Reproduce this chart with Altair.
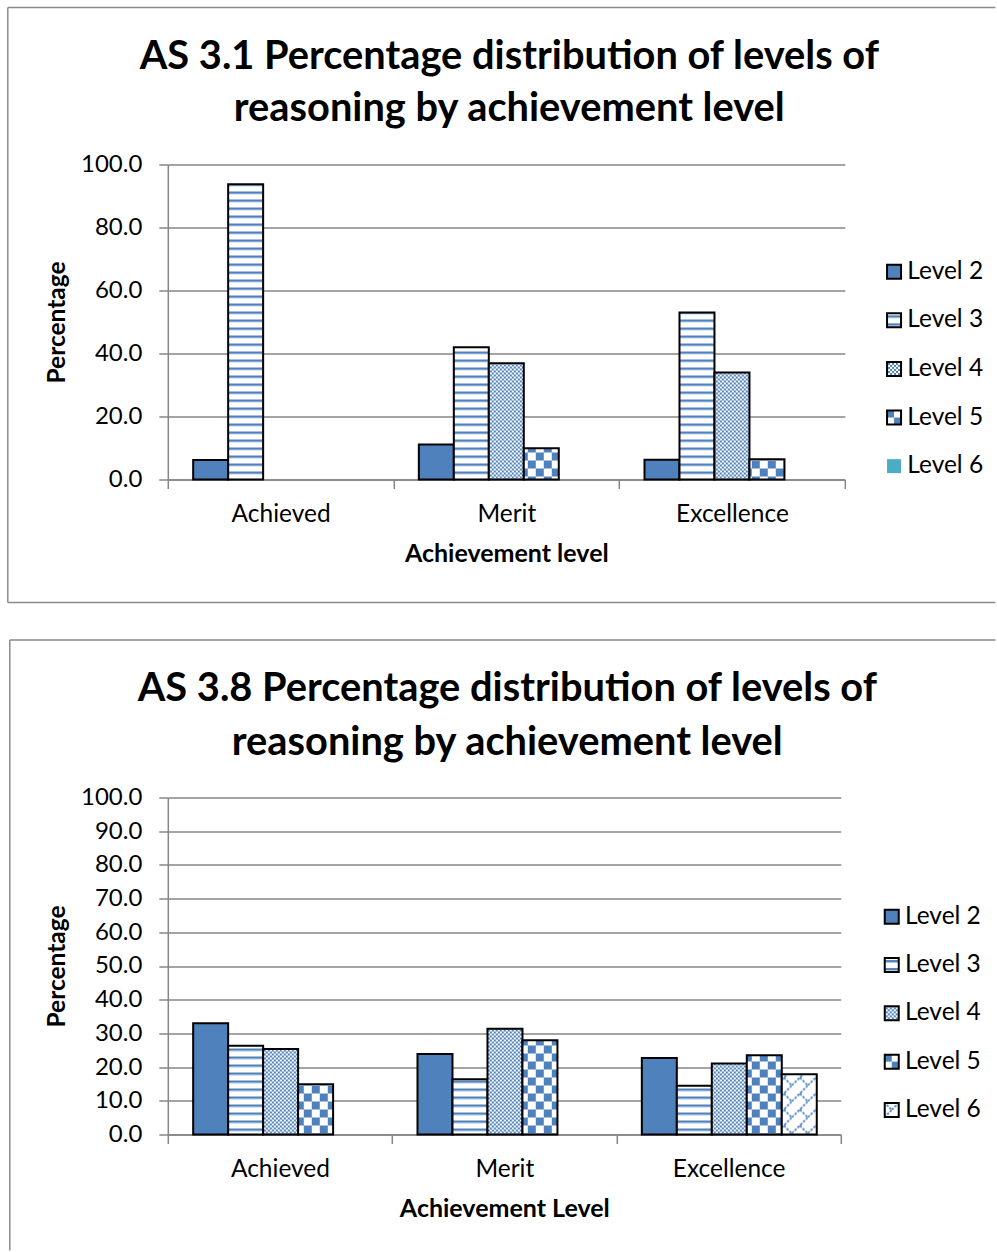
import pandas as pd
import altair as alt
import jinja2

# ---------------- data ----------------
cats = ["Achieved", "Merit", "Excellence"]
levels = ["Level 2", "Level 3", "Level 4", "Level 5", "Level 6"]

# AS 3.1 (values per level, in order Achieved, Merit, Excellence)
as31_l2 = [6.2, 11.1, 6.3]
as31_l3 = [93.7, 42.0, 53.0]
as31_l4 = [0.0, 36.9, 34.0]
as31_l5 = [0.0, 9.9, 6.4]
as31_l6 = [0.0, 0.0, 0.0]

# AS 3.8
as38_l2 = [33.0, 23.9, 22.7]
as38_l3 = [26.3, 16.4, 14.5]
as38_l4 = [25.4, 31.4, 21.1]
as38_l5 = [14.9, 28.0, 23.5]
as38_l6 = [0.0, 0.0, 17.9]

yticks_31 = [0, 20, 40, 60, 80, 100]
yticks_38 = [0, 10, 20, 30, 40, 50, 60, 70, 80, 90, 100]

title_31 = ["AS 3.1 Percentage distribution of levels of", "reasoning by achievement level"]
title_38 = ["AS 3.8 Percentage distribution of levels of", "reasoning by achievement level"]

BLUE = "#4F81BD"
GRID = "#868686"
FONT = "Lato"

fills_31 = [BLUE, "url(#p3)", "url(#p4)", "url(#p5)", "#4BACC6"]
strokes_31 = ["black", "black", "black", "black", "transparent"]
fills_38 = [BLUE, "url(#p3)", "url(#p4)", "url(#p5)", "url(#p6)"]
strokes_38 = ["black", "black", "black", "black", "black"]


def long_df(series):
    rows = []
    for lev, vals in zip(levels, series):
        for c, v in zip(cats, vals):
            rows.append({"cat": c, "level": lev, "value": v})
    return pd.DataFrame(rows)


def frame_line(x, x2, y, y2):
    return alt.Chart(pd.DataFrame({"k": [0]})).mark_rule(
        stroke="#8a8a8a", strokeWidth=1.5
    ).encode(x=alt.value(x), x2=alt.value(x2), y=alt.value(y), y2=alt.value(y2))


def make_panel(series, title_lines, xtitle, yvals, fills, strokes, w, h, frame_segments,
               legend_xy, legend_rowpad, title_offset, title_lh, xlabel_pad, xtitle_pad):
    df = long_df(series)

    legend = alt.Legend(
        title=None, orient="none", legendX=legend_xy[0], legendY=legend_xy[1],
        labelFont=FONT, labelFontSize=24.5, labelColor="black", symbolType="square",
        symbolSize=196, symbolStrokeWidth=2, symbolOpacity=1, rowPadding=legend_rowpad,
        labelOffset=1, padding=0,
    )

    bars = alt.Chart(df).transform_filter("datum.value > 0").mark_bar(strokeWidth=2).encode(
        x=alt.X(
            "cat:N", sort=cats,
            scale=alt.Scale(domain=cats, paddingInner=0, paddingOuter=0),
            axis=alt.Axis(
                title=xtitle, tickBand="extent", labelAngle=0, grid=False,
                domainColor=GRID, domainWidth=1.5, tickColor=GRID, tickWidth=1.5, tickSize=9,
                labelFont=FONT, labelFontSize=24.5, labelColor="black", labelPadding=xlabel_pad,
                titleFont=FONT, titleFontSize=25, titleFontWeight="bold", titleColor="black",
                titlePadding=xtitle_pad,
            ),
        ),
        xOffset=alt.XOffset(
            "level:N", scale=alt.Scale(domain=levels, paddingInner=0, paddingOuter=0.725)
        ),
        y=alt.Y(
            "value:Q",
            scale=alt.Scale(domain=[0, 100], nice=False),
            axis=alt.Axis(
                values=yvals, format=".1f", title="Percentage", grid=True,
                gridColor=GRID, gridWidth=1.5, domainColor=GRID, domainWidth=1.5,
                tickColor=GRID, tickWidth=1.5, tickSize=9,
                labelFont=FONT, labelFontSize=24, labelColor="black", labelPadding=17,
                titleFont=FONT, titleFontSize=24.5, titleFontWeight="bold", titleColor="black",
                titlePadding=11,
            ),
        ),
        color=alt.Color("level:N", scale=alt.Scale(domain=levels, range=fills), legend=legend),
        stroke=alt.Stroke("level:N", scale=alt.Scale(domain=levels, range=strokes), legend=legend),
    )
    frames = [frame_line(*seg) for seg in frame_segments]
    return alt.layer(*frames, bars).properties(
        width=w, height=h,
        title=alt.TitleParams(
            text=title_lines, font=FONT, fontSize=39.8, fontWeight="bold", color="black",
            lineHeight=title_lh, anchor="middle", frame="group", baseline="alphabetic",
            offset=title_offset, dx=3,
        ),
    )


# frame segments relative to each plot origin (x, x2, y, y2)
seg_31 = [
    (-160, 827.7, -157, -157),   # top
    (-160, -160, -157, 438),     # left
    (-160, 827.7, 438, 438),     # bottom
]
seg_38 = [
    (-158, 827.7, -157.4, -157.4),  # top
    (-158, -158, -157.4, 453),      # left
]

p1 = make_panel(
    [as31_l2, as31_l3, as31_l4, as31_l5, as31_l6], title_31, "Achievement level", yticks_31,
    fills_31, strokes_31, 677, 315, seg_31, (714, 95), 23.6, -154, 52, 14, 15,
)
p2 = make_panel(
    [as38_l2, as38_l3, as38_l4, as38_l5, as38_l6], title_38, "Achievement Level", yticks_38,
    fills_38, strokes_38, 673, 337, seg_38, (711.7, 107), 23.3, -155.5, 54.5, 14.5, 15,
)

chart = alt.concat(p1, p2, columns=1, spacing=34).resolve_scale(
    color="independent", stroke="independent", x="independent", y="independent"
).resolve_legend(color="independent", stroke="independent").properties(
    padding={"left": 5.8, "top": 5.5, "right": 0, "bottom": 0},
    background="white",
).configure_view(stroke="transparent")

PATTERN_DEFS = """
<svg width="0" height="0" style="position:absolute;left:0;top:0" aria-hidden="true">
 <defs>
  <pattern id="p3" patternUnits="userSpaceOnUse" width="8" height="8">
   <rect width="8" height="8" fill="#ffffff"/>
   <rect y="3" width="8" height="2.4" fill="#4F81BD"/>
  </pattern>
  <pattern id="p4" patternUnits="userSpaceOnUse" width="4" height="4">
   <rect width="4" height="4" fill="#ffffff"/>
   <rect width="2" height="2" fill="#4F81BD"/>
   <rect x="2" y="2" width="2" height="2" fill="#4F81BD"/>
  </pattern>
  <pattern id="p5" patternUnits="userSpaceOnUse" width="16" height="16">
   <rect width="16" height="16" fill="#ffffff"/>
   <rect width="8" height="8" fill="#4F81BD"/>
   <rect x="8" y="8" width="8" height="8" fill="#4F81BD"/>
  </pattern>
  <pattern id="p6" patternUnits="userSpaceOnUse" width="16" height="16">
   <rect width="16" height="16" fill="#ffffff"/>
   <path d="M0,16 L16,0" stroke="#4F81BD" stroke-width="1.8" stroke-dasharray="2.5,1.5"/>
   <path d="M8,8 L16,16" stroke="#4F81BD" stroke-width="1.8" stroke-dasharray="2.5,1.5"/>
  </pattern>
 </defs>
</svg>
"""

TEMPLATE = jinja2.Template(
    """<!DOCTYPE html>
<html>
<head>
<meta charset="utf-8">
<style>
  body { margin: 0; }
  #{{ output_div }}.vega-embed { width: 100%; display: flex; }
  #{{ output_div }}.vega-embed details,
  #{{ output_div }}.vega-embed details summary { position: relative; }
</style>
<script type="text/javascript" src="{{ base_url }}/vega@{{ vega_version }}"></script>
<script type="text/javascript" src="{{ base_url }}/vega-lite@{{ vegalite_version }}"></script>
<script type="text/javascript" src="{{ base_url }}/vega-embed@{{ vegaembed_version }}"></script>
</head>
<body>
"""
    + PATTERN_DEFS
    + """
<div class="vega-visualization" id="{{ output_div }}"></div>
<script type="text/javascript">
  (function() {
    var spec = {{ spec }};
    var embedOpt = {{ embed_options }};
    vegaEmbed("#{{ output_div }}", spec, embedOpt).catch(function(err) {
      document.getElementById("{{ output_div }}").innerHTML = "<pre>" + err + "</pre>";
    });
  })();
</script>
</body>
</html>
"""
)

chart.save("out.html", embed_options={"renderer": "svg", "actions": False}, template=TEMPLATE)
